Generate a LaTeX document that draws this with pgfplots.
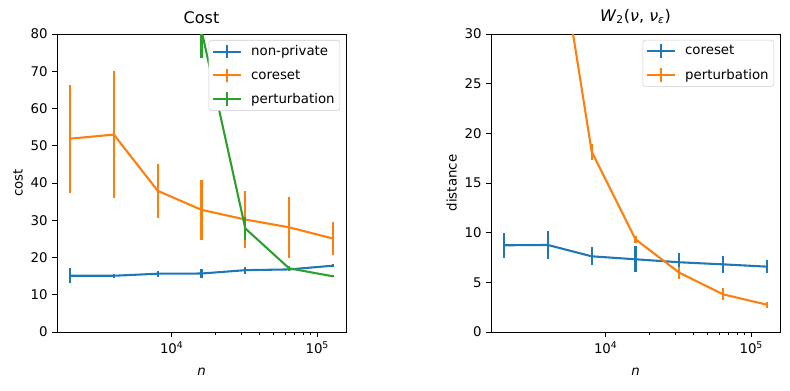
\documentclass[border=0pt]{standalone}
\usepackage{pgfplots}
\pgfplotsset{compat=1.18}
\usepackage{fontspec}
\setmainfont{DejaVu Sans}
\definecolor{tabblue}{HTML}{1F77B4}
\definecolor{taborange}{HTML}{FF7F0E}
\definecolor{tabgreen}{HTML}{2CA02C}

\pgfplotsset{
  every axis/.append style={
    scale only axis,
    width=216.75pt, height=223.5pt,
    xmin=1626, xmax=157500,
    tick align=outside,
    tick pos=left,
    major tick length=3.5pt,
    minor tick length=2pt,
    tick style={black, line width=0.6pt},
    axis line style={line width=0.6pt},
    tick label style={font=\fontsize{10}{12}\selectfont},
    label style={font=\fontsize{10}{12}\selectfont},
    title style={font=\fontsize{12}{14}\selectfont, yshift=-2pt},
    /pgf/number format/assume math mode=true,
    xtick={10000,100000},
    xticklabels={10\textsuperscript{4},10\textsuperscript{5}},
    xlabel={\textit{n}},
    xlabel style={yshift=-4pt},
    legend style={font=\fontsize{10}{12}\selectfont, draw=black!20, rounded corners=2pt, at={(0.98,0.98)}, anchor=north east, inner sep=2pt, row sep=5pt},
    legend cell align=left,
  },
  legend image code/.code={
    \draw[#1, line width=1.56pt] (0cm,0cm) -- (0.75cm,0cm);
    \draw[#1, line width=1.56pt] (0.375cm,-0.18cm) -- (0.375cm,0.18cm);
    \path (0.92cm,0cm);},
  ebb/.style={line width=1.56pt, error bars/.cd, y dir=both, y explicit, error mark=none, error bar style={#1, line width=1.56pt}},
}

\begin{document}
\begin{tikzpicture}
\path[use as bounding box] (0,0) rectangle (592.5pt,292.5pt);

\begin{semilogxaxis}[at={(42.75pt,43.5pt)}, anchor=south west,
  ymin=0, ymax=80, ytick={0,10,...,80},
  ylabel={cost}, ylabel style={yshift=-1pt},
  title={Cost}]
\addplot[tabblue, ebb=tabblue] table[x=x, y=y, y error=e] {
x y e
2000 15.1 2.0
4000 15.1 0.6
8000 15.65 0.8
16000 15.7 1.3
32000 16.6 0.9
64000 16.8 0.5
128000 17.8 0.4
};
\addlegendentry{non-private}
\addplot[taborange, ebb=taborange] table[x=x, y=y, y error=e] {
x y e
2000 51.9 14.5
4000 53.0 17.1
8000 37.9 7.2
16000 32.8 8.0
32000 30.2 7.6
64000 28.1 8.1
128000 25.1 4.4
};
\addlegendentry{coreset}
\addplot[tabgreen, ebb=tabgreen] table[x=x, y=y, y error=e] {
x y e
2000 600 40
4000 350 30
8000 200 20
16000 81 7.5
32000 27.8 3.0
64000 17.1 0.6
128000 14.95 0.3
};
\addlegendentry{perturbation}
\end{semilogxaxis}

\begin{semilogxaxis}[at={(368.25pt,43.5pt)}, anchor=south west,
  ymin=0, ymax=30, ytick={0,5,...,30},
  ylabel={distance}, ylabel style={yshift=-1pt},
  title={\textit{W}\textsubscript{2}(\textit{ν}, \textit{ν}\textsubscript{\textit{ε}})}]
\addplot[tabblue, ebb=tabblue] table[x=x, y=y, y error=e] {
x y e
2000 8.73 1.28
4000 8.76 1.37
8000 7.62 0.9
16000 7.32 1.3
32000 7.02 0.95
64000 6.81 0.85
128000 6.58 0.67
};
\addlegendentry{coreset}
\addplot[taborange, ebb=taborange] table[x=x, y=y, y error=e] {
x y e
2000 110 5
4000 46 2
8000 18.15 0.8
16000 9.33 0.37
32000 5.97 0.6
64000 3.79 0.6
128000 2.75 0.3
};
\addlegendentry{perturbation}
\end{semilogxaxis}
\end{tikzpicture}
\end{document}
